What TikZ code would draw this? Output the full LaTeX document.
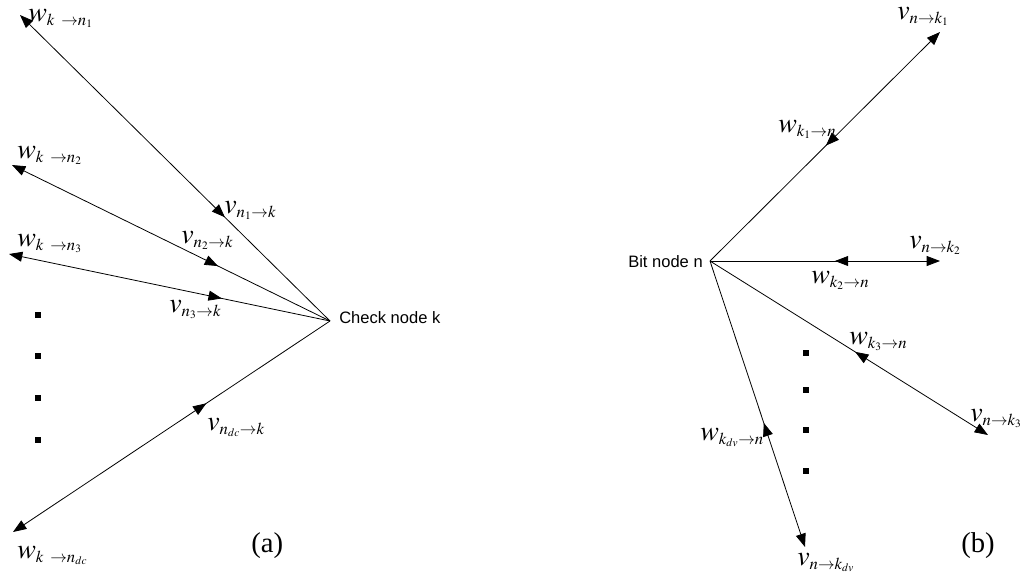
\documentclass[tikz,border=0pt]{standalone}
\usepackage{mathptmx}
\usepackage[no-math]{fontspec}
\setmainfont{Liberation Serif}
\newfontfamily\arialf{Liberation Sans}
\usetikzlibrary{arrows.meta,decorations.markings}
\DeclareMathSizes{21}{21}{12.5}{8.5}
\tikzset{
  mytip/.tip={Triangle[length=10pt,width=7.5pt]},
  msg/.style={draw, line width=0.6pt, {mytip}-, postaction={decorate},
    decoration={markings, mark=at position #1 with {\arrow{mytip}}}},
  lab/.style={inner sep=0pt, anchor=base west, font=\fontsize{21}{24}\selectfont},
  sanstext/.style={inner sep=0pt, anchor=base west, font=\arialf\fontsize{12.4}{14}\selectfont},
  captext/.style={inner sep=0pt, anchor=base west, font=\fontsize{21.5}{24}\selectfont},
  sqdot/.style={fill, minimum size=5.2pt, inner sep=0pt},
}
\newcommand{\sk}{\hspace{5pt}}
\begin{document}
\begin{tikzpicture}[x=0.75pt,y=-0.75pt]
\useasboundingbox (0,0) rectangle (1020,579);
% ---------- (a) ----------
\coordinate (C) at (330,321);
\node[sanstext] (ck) at (339,323) {Check node k};
\coordinate (a1) at (20,15);
\coordinate (a2) at (12,165);
\coordinate (a3) at (9,254);
\coordinate (a4) at (13,532);
\draw[msg=0.661] (a1) -- (C);
\draw[msg=0.648] (a2) -- (C);
\draw[msg=0.663] (a3) -- (C);
\draw[msg=0.61] (a4) -- (C);
\node[lab] (wa1) at (28,21) {$w_{k\sk\rightarrow n_1}$};
\node[lab] (wa2) at (17,158) {$w_{k\sk\rightarrow n_2}$};
\node[lab] (wa3) at (17,246) {$w_{k\sk\rightarrow n_3}$};
\node[lab] (wa4) at (17,558) {$w_{k\sk\rightarrow n_{dc}}$};
\node[lab] (va1) at (224,213) {$v_{n_1\rightarrow k}$};
\node[lab] (va2) at (181,243) {$v_{n_2\rightarrow k}$};
\node[lab] (va3) at (169,312) {$v_{n_3\rightarrow k}$};
\node[lab] (va4) at (207,430) {$v_{n_{dc}\rightarrow k}$};
\node[sqdot] (da1) at (38,315) {};
\node[sqdot] (da2) at (38,356) {};
\node[sqdot] (da3) at (38,398) {};
\node[sqdot] (da4) at (38,440) {};
\node[captext] (capa) at (251,552) {(a)};
% ---------- (b) ----------
\coordinate (N) at (710,261);
\node[sanstext, anchor=base east] (bn) at (703,267) {Bit node n};
\coordinate (b1) at (940,32);
\coordinate (b2) at (940,261);
\coordinate (b3) at (988,435);
\coordinate (b4) at (805,547);
\draw[msg=0.496] (b1) -- (N);
\draw[msg=0.457] (b2) -- (N);
\draw[msg=0.478] (b3) -- (N);
\draw[msg=0.434] (b4) -- (N);
\node[lab] (vb1) at (897,19) {$v_{n\rightarrow k_1}$};
\node[lab] (wb1) at (778,132) {$w_{k_1\rightarrow n}$};
\node[lab] (vb2) at (909,248) {$v_{n\rightarrow k_2}$};
\node[lab] (wb2) at (811,283) {$w_{k_2\rightarrow n}$};
\node[lab] (wb3) at (849,344) {$w_{k_3\rightarrow n}$};
\node[lab] (vb3) at (970,421) {$v_{n\rightarrow k_3}$};
\node[lab] (wb4) at (700,440) {$w_{k_{dv}\rightarrow n}$};
\node[lab] (vb4) at (797,565) {$v_{n\rightarrow k_{dv}}$};
\node[sqdot] (db1) at (806,353) {};
\node[sqdot] (db2) at (806,390) {};
\node[sqdot] (db3) at (806,430) {};
\node[sqdot] (db4) at (806,471) {};
\node[captext] (capb) at (961,552) {(b)};
\end{tikzpicture}
\end{document}
